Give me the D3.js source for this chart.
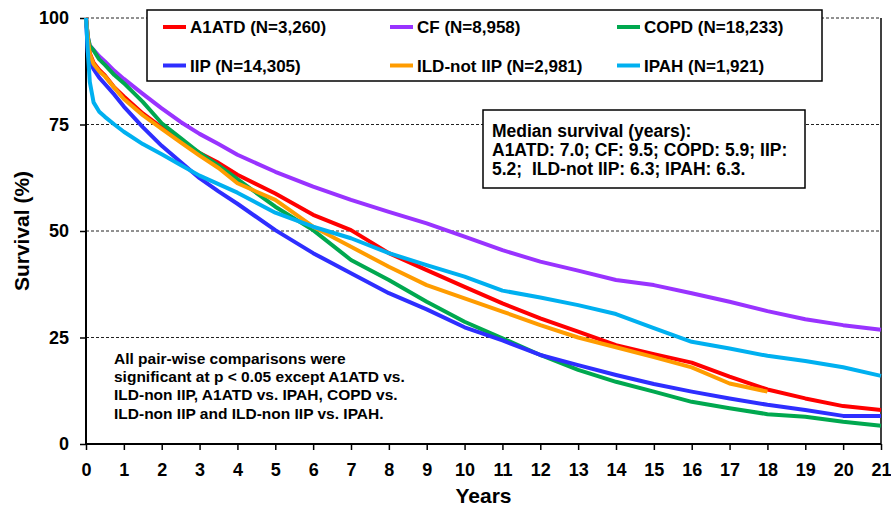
<!DOCTYPE html>
<html>
<head>
<meta charset="utf-8">
<script src="https://cdn.jsdelivr.net/npm/d3@7"></script>
<style>
body { margin: 0; background: #fff; }
svg { display: block; font-family: "Liberation Sans", Arial, sans-serif; font-weight: bold; }
</style>
</head>
<body>
<div id="chart"></div>
<script>
var w = 891,
    h = 508;

// time points (years) shared by all series
var years = [0, 0.05, 0.1, 0.2, 0.35, 0.5, 0.75, 1, 1.5, 2, 2.5, 3, 3.5, 4, 5, 6, 7, 8, 9, 10,
             11, 12, 13, 14, 15, 16, 17, 18, 19, 20, 21];

// survival (%)
var a1atd = [100, 95, 91.7, 89.5, 87.8, 86.5, 83.7, 81.6, 77.6, 74.3, 71.2, 68.3, 66.0, 63.2, 58.8, 53.8, 50.2,
             44.8, 40.8, 36.9, 33.0, 29.5, 26.4, 23.2, 21.1, 19.1, 15.8, 12.8, 10.7, 8.9, 8.0];
var cf    = [100, 95.5, 93.5, 92.5, 91.0, 89.8, 87.6, 85.7, 82.2, 78.8, 75.6, 72.8, 70.4, 67.9, 63.9, 60.4, 57.3,
             54.5, 51.8, 48.7, 45.5, 42.8, 40.7, 38.5, 37.3, 35.4, 33.4, 31.2, 29.3, 27.9, 26.8];
var copd  = [100, 95.5, 93.5, 92.4, 90.3, 89.0, 86.6, 84.7, 80.3, 75.3, 71.8, 68.3, 65.4, 62.2, 55.7, 50.2, 43.2,
             38.5, 33.4, 28.7, 24.8, 20.9, 17.4, 14.6, 12.3, 9.9, 8.4, 7.0, 6.4, 5.2, 4.3];
var iip   = [100, 91.5, 90.0, 88.0, 86.0, 84.5, 82.0, 79.2, 74.4, 70.0, 66.2, 62.4, 59.3, 56.4, 50.2, 44.8, 40.1,
             35.4, 31.6, 27.4, 24.3, 20.9, 18.5, 16.2, 14.1, 12.3, 10.7, 9.2, 8.0, 6.6, 6.6];
var ild   = [100, 95, 91.5, 89.2, 87.5, 86.3, 83.6, 81.0, 77.2, 74.0, 70.8, 67.7, 64.8, 61.2, 57.3, 51.0, 46.3,
             41.6, 37.3, 34.2, 31.1, 27.9, 25.0, 22.7, 20.4, 18.0, 14.2, 12.3, null, null, null];
var ipah  = [100, 92, 85, 80.2, 78.0, 76.8, 75.0, 73.3, 70.4, 68.0, 65.5, 63.0, 61.0, 59.0, 54.3, 51.0, 48.3,
             44.8, 42.0, 39.3, 36.0, 34.4, 32.6, 30.5, 27.2, 24.0, 22.4, 20.7, 19.5, 18.0, 16.0];

var seriesNames = ["A1ATD (N=3,260)", "CF (N=8,958)", "COPD (N=18,233)",
                   "IIP (N=14,305)", "ILD-not IIP (N=2,981)", "IPAH (N=1,921)"];
var seriesValues = [a1atd, cf, copd, iip, ild, ipah];
var colors = ["#ff0000", "#9933ff", "#00a84f", "#2e2eff", "#ff9c00", "#00b0f0"];

var xTicks = d3.range(0, 22);
var yTicks = [0, 25, 50, 75, 100];

var medianLines = ["Median survival (years):",
                   "A1ATD: 7.0; CF: 9.5; COPD: 5.9; IIP:",
                   "5.2;  ILD-not IIP: 6.3; IPAH: 6.3."];
var noteLines = ["All pair-wise comparisons were",
                 "significant at p < 0.05 except A1ATD vs.",
                 "ILD-non IIP, A1ATD vs. IPAH, COPD vs.",
                 "ILD-non IIP and ILD-non IIP vs. IPAH."];

var svg = d3.select("#chart")
    .append("svg")
    .attr("width", w)
    .attr("height", h);

var x = d3.scaleLinear().domain([0, 21]).range([86, 881]);
var y = d3.scaleLinear().domain([0, 100]).range([444, 18]);

// dashed grid lines
svg.selectAll(".grid")
    .data(yTicks.slice(1))
    .enter()
    .append("line")
    .attr("x1", x(0))
    .attr("x2", x(21))
    .attr("y1", function(d) { return y(d); })
    .attr("y2", function(d) { return y(d); })
    .attr("stroke", "#222")
    .attr("stroke-width", 1)
    .attr("stroke-dasharray", "3,2");

// right border
svg.append("line")
    .attr("x1", x(21)).attr("x2", x(21))
    .attr("y1", y(100)).attr("y2", y(0))
    .attr("stroke", "#000")
    .attr("stroke-width", 1.5);

// axes
var xAxis = svg.append("g")
    .attr("transform", "translate(0," + y(0) + ")")
    .call(d3.axisBottom(x).tickValues(xTicks).tickFormat(d3.format("d")).tickSize(6).tickPadding(13));
var yAxis = svg.append("g")
    .attr("transform", "translate(" + x(0) + ",0)")
    .call(d3.axisLeft(y).tickValues(yTicks).tickSize(6).tickPadding(11));

[xAxis, yAxis].forEach(function(g) {
    g.select(".domain").attr("stroke", "#000").attr("stroke-width", 2);
    g.selectAll(".tick line").attr("stroke", "#000").attr("stroke-width", 1.5);
    g.selectAll(".tick text")
        .attr("fill", "#000")
        .attr("font-size", "18px")
        .attr("font-weight", "bold")
        .attr("font-family", "Liberation Sans, Arial, sans-serif");
});
xAxis.select(".domain").attr("d", "M" + x(0) + ",0H" + x(21));
yAxis.select(".domain").attr("d", "M0," + y(0) + "V" + y(100));

// survival curves
var line = d3.line()
    .defined(function(d) { return d[1] != null; })
    .x(function(d) { return x(d[0]); })
    .y(function(d) { return y(d[1]); });

svg.selectAll(".curve")
    .data(seriesValues)
    .enter()
    .append("path")
    .attr("class", "curve")
    .attr("fill", "none")
    .attr("stroke", function(d, i) { return colors[i]; })
    .attr("stroke-width", 4)
    .attr("stroke-linejoin", "round")
    .attr("d", function(vals) {
        return line(vals.map(function(v, j) { return [years[j], v]; }));
    });

// legend
svg.append("rect")
    .attr("x", 147).attr("y", 10)
    .attr("width", 675).attr("height", 71)
    .attr("fill", "#fff")
    .attr("stroke", "#000")
    .attr("stroke-width", 1.5);

var legend = svg.selectAll(".legend")
    .data(seriesNames)
    .enter()
    .append("g")
    .attr("transform", function(d, i) {
        return "translate(" + (163 + (i % 3) * 227) + "," + (27 + Math.floor(i / 3) * 38.5) + ")";
    });
legend.append("line")
    .attr("x1", 0).attr("x2", 23)
    .attr("stroke", function(d, i) { return colors[i]; })
    .attr("stroke-width", 4);
legend.append("text")
    .attr("x", 27)
    .attr("y", 6)
    .attr("font-size", "17px")
    .attr("fill", "#000")
    .text(function(d) { return d; });

// median survival box
svg.append("rect")
    .attr("x", 483).attr("y", 110)
    .attr("width", 322).attr("height", 78)
    .attr("fill", "#fff")
    .attr("stroke", "#000")
    .attr("stroke-width", 1.5);
svg.selectAll(".median")
    .data(medianLines)
    .enter()
    .append("text")
    .attr("x", 492)
    .attr("y", function(d, i) { return 137 + i * 19; })
    .attr("font-size", "17.5px")
    .attr("fill", "#000")
    .style("white-space", "pre")
    .text(function(d) { return d; });

// note on comparisons
svg.selectAll(".note")
    .data(noteLines)
    .enter()
    .append("text")
    .attr("x", 114)
    .attr("y", function(d, i) { return [364, 382, 400, 419][i]; })
    .attr("font-size", "15.5px")
    .attr("fill", "#000")
    .text(function(d) { return d; });

// axis titles
svg.append("text")
    .attr("x", (x(0) + x(21)) / 2)
    .attr("y", 503)
    .attr("text-anchor", "middle")
    .attr("font-size", "21px")
    .text("Years");
svg.append("text")
    .attr("transform", "translate(29," + y(50) + ") rotate(-90)")
    .attr("text-anchor", "middle")
    .attr("font-size", "21px")
    .text("Survival (%)");
</script>
</body>
</html>
